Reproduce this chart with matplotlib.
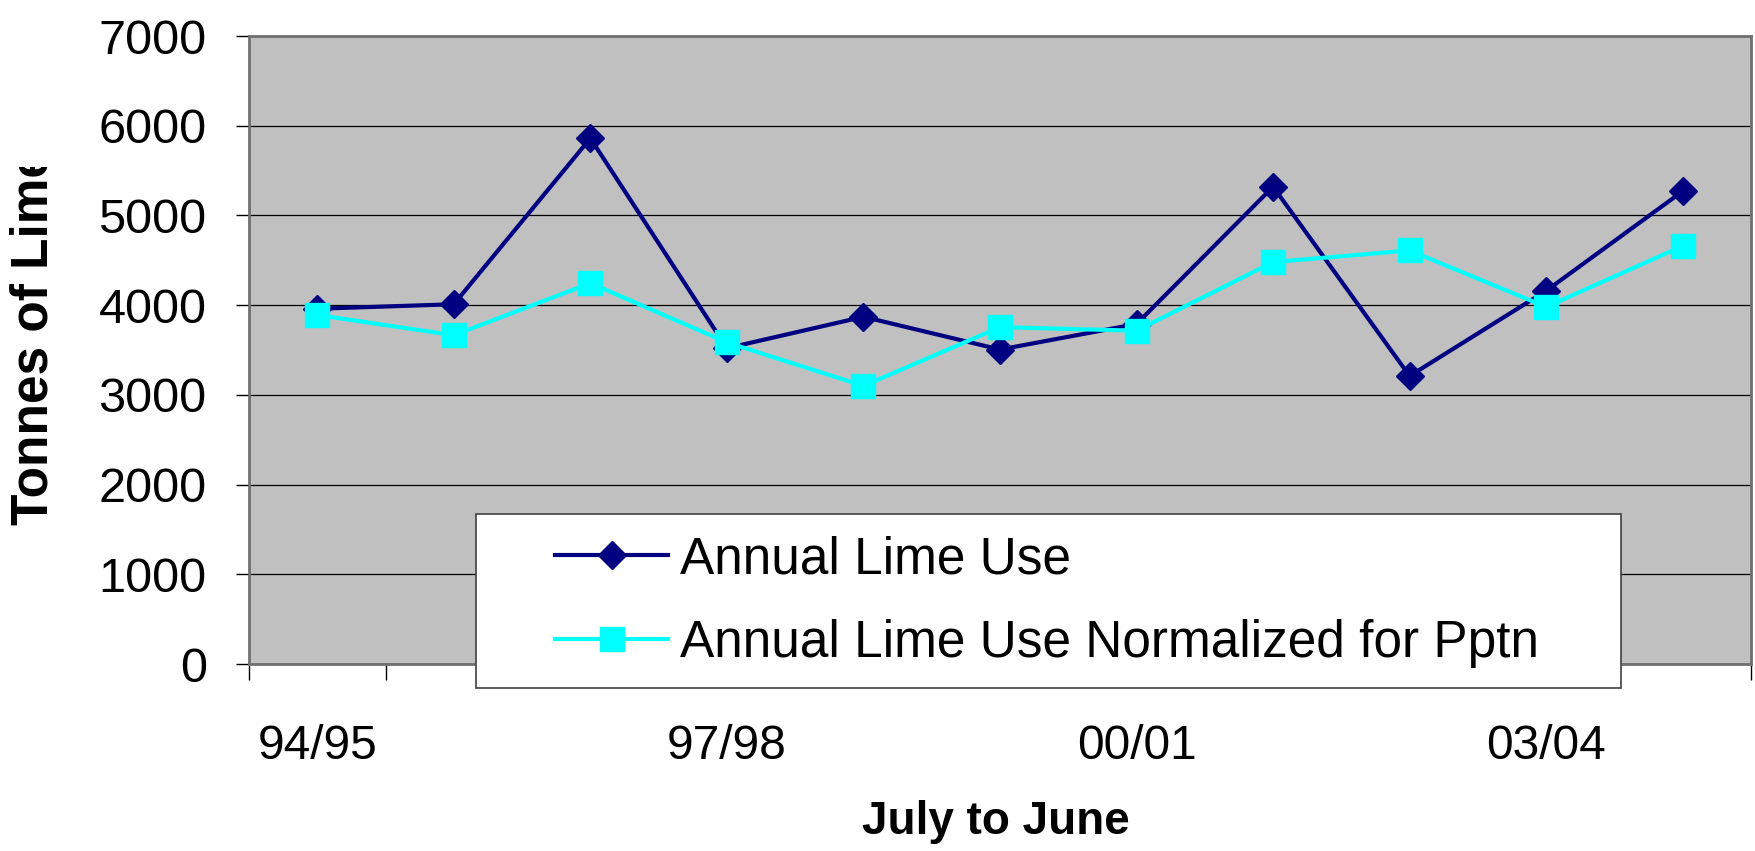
import matplotlib
matplotlib.use('Agg')
import matplotlib.pyplot as plt
from matplotlib.patches import Rectangle
from matplotlib.transforms import Bbox, TransformedBbox
import numpy as np

plt.rcParams['font.family'] = ['Liberation Sans', 'DejaVu Sans']

# seasons July to June
seasons = ['94/95', '95/96', '96/97', '97/98', '98/99', '99/00',
           '00/01', '01/02', '02/03', '03/04', '04/05']
shown_labels = ['94/95', '97/98', '00/01', '03/04']
annual_use = [3960, 4010, 5860, 3520, 3870, 3505, 3790, 5320, 3210, 4160, 5270]
normalized_use = [3890, 3665, 4245, 3585, 3100, 3755, 3715, 4480, 4610, 3980, 4660]

W, H = 1756, 851
fig = plt.figure(figsize=(W / 100, H / 100), dpi=100)
ax = fig.add_axes([249 / W, 1 - 664 / H, 1502 / W, 628 / H])
ax.set_facecolor('#C0C0C0')

x = np.arange(len(seasons))
l1, = ax.plot(x, annual_use, color='#000080', lw=3, marker='D', ms=14.5,
              label='Annual Lime Use', zorder=3)
l2, = ax.plot(x, normalized_use, color='#00FFFF', lw=3, marker='s', ms=17,
              label='Annual Lime Use Normalized for Pptn', zorder=4)

ax.set_xlim(-0.5, len(seasons) - 0.5)
ax.set_ylim(0, 7000)
ax.set_yticks(np.arange(0, 7001, 1000))
ax.yaxis.grid(True, color='black', lw=0.9)
ax.set_axisbelow(True)
ax.tick_params(axis='y', direction='out', length=9.5, width=1, pad=21,
               labelsize=35)

# boundaries as tick marks, labels every third season
ax.set_xticks(np.arange(-0.5, len(seasons)), labels=[''] * (len(seasons) + 1))
ax.set_xticks([seasons.index(s) for s in shown_labels], labels=shown_labels,
              minor=True)
ax.tick_params(axis='x', which='major', direction='out', length=11.5, width=1)
ax.tick_params(axis='x', which='minor', length=0, pad=43, labelsize=34.5)

for s in ax.spines.values():
    s.set_color('#707070')
    s.set_linewidth(2)

fig.text(996 / W, 1 - 822 / H, 'July to June', fontsize=33, fontweight='bold',
         ha='center', va='center')

# y label is cut off at the top in the original
ylab = fig.text(34 / W, 1 - 525 / H, 'Tonnes of Lime', fontsize=37,
                fontweight='bold', rotation=90, ha='center', va='bottom')
ylab.set_clip_box(TransformedBbox(Bbox([[0, 0], [1, 1 - 167 / H]]),
                                  fig.transFigure))
ylab.set_clip_on(True)

# legend box
box = Rectangle((476 / W, 1 - 688 / H), (1621 - 476) / W, (688 - 514) / H,
                transform=fig.transFigure, facecolor='white',
                edgecolor='#404040', lw=1.2, zorder=5)
fig.patches.append(box)
leg = fig.legend(handles=[l1, l2], loc='center left',
                 bbox_to_anchor=(555 / W, 1 - 601.5 / H), frameon=False,
                 fontsize=37, handlelength=2.2, handletextpad=0.23,
                 borderpad=0, borderaxespad=0, labelspacing=0.68)
leg.set_zorder(6)

fig.savefig('out.png', dpi=100)
